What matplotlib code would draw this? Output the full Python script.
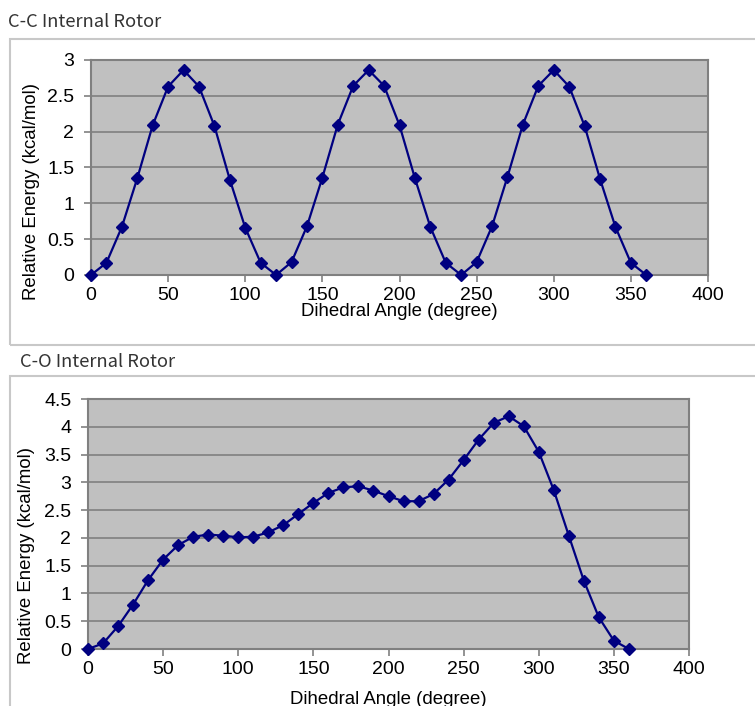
import matplotlib
matplotlib.use("Agg")
from matplotlib import pyplot as plt
from matplotlib.patches import Rectangle

# dihedral angles (degree), same grid for both rotors
angle = [0, 10, 20, 30, 40, 50, 60, 70, 80, 90, 100, 110, 120, 130, 140, 150, 160, 170, 180,
         190, 200, 210, 220, 230, 240, 250, 260, 270, 280, 290, 300, 310, 320, 330, 340, 350, 360]

# relative energy (kcal/mol)
cc_energy = [0, 0.17, 0.67, 1.35, 2.09, 2.63, 2.86, 2.63, 2.08, 1.33, 0.66, 0.17, 0, 0.18, 0.68,
             1.36, 2.10, 2.64, 2.86, 2.64, 2.09, 1.35, 0.67, 0.17, 0, 0.18, 0.68, 1.37, 2.10,
             2.64, 2.86, 2.63, 2.08, 1.34, 0.67, 0.17, 0]
co_energy = [0, 0.10, 0.41, 0.80, 1.24, 1.61, 1.87, 2.02, 2.06, 2.04, 2.01, 2.02, 2.10, 2.23,
             2.43, 2.63, 2.81, 2.91, 2.93, 2.85, 2.75, 2.66, 2.66, 2.79, 3.05, 3.40, 3.77,
             4.07, 4.19, 4.01, 3.55, 2.86, 2.04, 1.23, 0.57, 0.15, 0]

titles = ["C-C Internal Rotor", "C-O Internal Rotor"]
xlabel = "Dihedral Angle (degree)"
ylabel = "Relative Energy (kcal/mol)"

W, H = 755, 706
fig = plt.figure(figsize=(W / 100, H / 100), dpi=100)
fig.patch.set_facecolor("white")

tick_font = {"family": "Liberation Sans", "size": 14}
label_font = {"family": "Liberation Sans", "size": 13.4}

def px(x0, y0, x1, y1):
    # pixel box -> figure fraction [left, bottom, width, height]
    return [x0 / W, 1 - y1 / H, (x1 - x0) / W, (y1 - y0) / H]

# outer frames and captions
for (y0, y1), (tx, ty), t in [((39, 345), (8, 22), titles[0]), ((376, 720), (20, 362), titles[1])]:
    fig.patches.append(Rectangle((10 / W, 1 - y1 / H), 760 / W, (y1 - y0) / H,
                                 transform=fig.transFigure, fill=False,
                                 edgecolor="#c8c8c8", linewidth=1.5))
    fig.text(tx / W, 1 - ty / H, t, fontsize=13.2, color="#333333",
             family=["Noto Sans CJK SC", "DejaVu Sans"], va="center", ha="left")

def draw(rect, y, ymax, ylab_pos, xlab_pos):
    ax = fig.add_axes(rect)
    ax.set_facecolor("#c0c0c0")
    ax.plot(angle, y, color="#000080", linewidth=1.6, marker="D", markersize=6.5,
            markerfacecolor="#000080", markeredgecolor="#000080", clip_on=False, zorder=3)
    ax.set_xlim(0, 400)
    ax.set_ylim(0, ymax)
    ax.set_xticks(range(0, 401, 50))
    ax.set_yticks([v * 0.5 for v in range(int(ymax * 2) + 1)])
    ax.set_yticklabels([f"{v * 0.5:g}" for v in range(int(ymax * 2) + 1)], fontdict=tick_font)
    ax.set_xticklabels([str(v) for v in range(0, 401, 50)], fontdict=tick_font)
    ax.grid(axis="y", color="#808080", linewidth=1.2)
    ax.set_axisbelow(True)
    for s in ax.spines.values():
        s.set_color("#808080")
        s.set_linewidth(1.5)
    ax.tick_params(direction="out", length=5, color="#808080", width=1.2, pad=4, labelcolor="black")
    ax.tick_params(axis="y", pad=7)
    ax.set_xlabel(xlabel, fontdict=label_font)
    ax.set_ylabel(ylabel, fontdict=label_font)
    ax.xaxis.set_label_coords(0.5, xlab_pos)
    ax.yaxis.set_label_coords(ylab_pos[0], ylab_pos[1])
    return ax

draw(px(91, 60, 708, 275), cc_energy, 3, (-0.083, 0.39), -0.13)
draw(px(88, 399, 689, 649), co_energy, 4.5, (-0.088, 0.376), -0.168)

plt.savefig("out.png", dpi=100)
